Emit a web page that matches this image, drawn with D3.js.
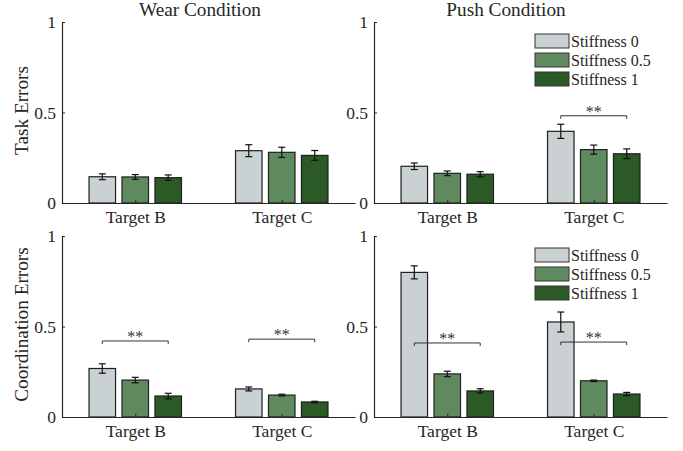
<!DOCTYPE html>
<html>
<head>
<meta charset="utf-8">
<script src="https://cdn.jsdelivr.net/npm/d3@7"></script>
<style>
  html, body { margin: 0; padding: 0; background: #fff; }
  svg text { font-family: "Liberation Serif", "Times New Roman", "DejaVu Serif", serif; }
</style>
</head>
<body>
<svg id="chart" width="683" height="451"></svg>
<script>
// Categories and series
const categories = ["Target B", "Target C"];
const seriesNames = ["Stiffness 0", "Stiffness 0.5", "Stiffness 1"];
const seriesColors = ["#c9d1d3", "#5f8a5f", "#2b5a26"];
const yTicks = [0, 0.5, 1];

// Means per category (rows) and stiffness level (columns), with error half-widths
const wearTaskMean = [[0.145, 0.144, 0.140], [0.289, 0.280, 0.263]];
const wearTaskErr  = [[0.016, 0.013, 0.015], [0.033, 0.028, 0.027]];
const pushTaskMean = [[0.203, 0.164, 0.159], [0.396, 0.295, 0.272]];
const pushTaskErr  = [[0.018, 0.013, 0.014], [0.039, 0.025, 0.027]];
const wearCoordMean = [[0.268, 0.204, 0.116], [0.155, 0.121, 0.083]];
const wearCoordErr  = [[0.026, 0.015, 0.015], [0.011, 0.005, 0.004]];
const pushCoordMean = [[0.799, 0.238, 0.144], [0.525, 0.200, 0.127]];
const pushCoordErr  = [[0.036, 0.015, 0.012], [0.055, 0.004, 0.009]];

// Significance brackets: [category index, bracket height, label]
const wearTaskSig = [];
const pushTaskSig = [[1, 0.482, "**"]];
const wearCoordSig = [[0, 0.420, "**"], [1, 0.430, "**"]];
const pushCoordSig = [[0, 0.409, "**"], [1, 0.414, "**"]];

const FONT = '"Liberation Serif", "Times New Roman", "DejaVu Serif", serif';
const svg = d3.select("#chart");
const axisColor = "#262626";
const tickFont = 17.5, labelFont = 19.25, legendFont = 16;

const colsX = [[62, 355], [374, 667]];
const rowsY = [[22, 203], [236, 417]];

const panels = [
  { col: 0, row: 0, mean: wearTaskMean, err: wearTaskErr, sig: wearTaskSig, title: "Wear Condition", ylabel: "Task Errors", legend: false },
  { col: 1, row: 0, mean: pushTaskMean, err: pushTaskErr, sig: pushTaskSig, title: "Push Condition", ylabel: null, legend: true },
  { col: 0, row: 1, mean: wearCoordMean, err: wearCoordErr, sig: wearCoordSig, title: null, ylabel: "Coordination Errors", legend: false },
  { col: 1, row: 1, mean: pushCoordMean, err: pushCoordErr, sig: pushCoordSig, title: null, ylabel: null, legend: true }
];

const titleX = [200, 506];
const barOffset = 0.225, barWidth = 0.181;

panels.forEach(p => {
  const [x0, x1] = colsX[p.col];
  const [yTop, yBot] = rowsY[p.row];
  const x = d3.scaleLinear().domain([0.5, 2.5]).range([x0, x1]);
  const y = d3.scaleLinear().domain([0, 1]).range([yBot, yTop]);
  const g = svg.append("g").attr("font-family", FONT);
  const bw = x(barWidth) - x(0);

  // bars
  p.mean.forEach((vals, ci) => {
    vals.forEach((v, si) => {
      const cx = x(ci + 1 + (si - 1) * barOffset);
      g.append("rect")
        .attr("x", cx - bw / 2).attr("y", y(v))
        .attr("width", bw).attr("height", y(0) - y(v))
        .attr("fill", seriesColors[si])
        .attr("stroke", "#1f1f1f").attr("stroke-width", 1.2);
    });
  });

  // error bars
  p.mean.forEach((vals, ci) => {
    vals.forEach((v, si) => {
      const cx = x(ci + 1 + (si - 1) * barOffset);
      const e = p.err[ci][si];
      const eg = g.append("g").attr("stroke", "#111").attr("stroke-width", 1.2);
      eg.append("line").attr("x1", cx).attr("x2", cx).attr("y1", y(v - e)).attr("y2", y(v + e));
      eg.append("line").attr("x1", cx - 3.5).attr("x2", cx + 3.5).attr("y1", y(v - e)).attr("y2", y(v - e));
      eg.append("line").attr("x1", cx - 3.5).attr("x2", cx + 3.5).attr("y1", y(v + e)).attr("y2", y(v + e));
    });
  });

  // x axis with inward ticks
  const xAxis = d3.axisBottom(x).tickValues([1, 2]).tickFormat(d => categories[d - 1])
    .tickSizeInner(-3).tickSizeOuter(0).tickPadding(10);
  const xa = g.append("g").attr("transform", `translate(0,${yBot})`).call(xAxis)
    .attr("font-family", FONT);
  xa.select(".domain").attr("stroke", axisColor).attr("stroke-width", 1.2);
  xa.selectAll(".tick line").attr("stroke", axisColor);
  xa.selectAll(".tick text").attr("font-size", tickFont).attr("fill", axisColor)
    .attr("font-family", FONT).attr("dy", "0.75em").attr("y", 7);

  // y axis with inward ticks
  const yAxis = d3.axisLeft(y).tickValues(yTicks).tickFormat(d3.format("~g"))
    .tickSizeInner(-3).tickSizeOuter(0).tickPadding(9);
  const ya = g.append("g").attr("transform", `translate(${x0},0)`).call(yAxis)
    .attr("font-family", FONT);
  ya.select(".domain").attr("stroke", axisColor).attr("stroke-width", 1.2);
  ya.selectAll(".tick line").attr("stroke", axisColor);
  ya.selectAll(".tick text").attr("font-size", tickFont).attr("fill", axisColor)
    .attr("font-family", FONT).attr("x", -6);

  // significance brackets
  p.sig.forEach(([ci, h, label]) => {
    const xa0 = x(ci + 1 - barOffset), xa1 = x(ci + 1 + barOffset);
    const yy = y(h);
    g.append("path")
      .attr("d", `M${xa0},${yy + 3}V${yy}H${xa1}V${yy + 3}`)
      .attr("fill", "none").attr("stroke", "#333").attr("stroke-width", 1);
    g.append("text").attr("x", (xa0 + xa1) / 2).attr("y", yy + 1)
      .attr("text-anchor", "middle").attr("font-size", 16).attr("fill", "#333")
      .attr("font-family", FONT)
      .text(label);
  });

  // title
  if (p.title) {
    svg.append("text").attr("x", titleX[p.col]).attr("y", 16)
      .attr("text-anchor", "middle").attr("font-size", labelFont).attr("fill", axisColor)
      .attr("font-family", FONT)
      .text(p.title);
  }

  // y label
  if (p.ylabel) {
    const cy = (yTop + yBot) / 2 - 2;
    svg.append("text").attr("transform", `translate(28,${cy}) rotate(-90)`)
      .attr("text-anchor", "middle").attr("font-size", labelFont).attr("fill", axisColor)
      .attr("font-family", FONT)
      .text(p.ylabel);
  }

  // legend
  if (p.legend) {
    const lg = svg.append("g").attr("transform", `translate(535,${yTop + 12})`);
    seriesNames.forEach((name, si) => {
      lg.append("rect").attr("x", 0).attr("y", si * 19).attr("width", 34).attr("height", 14)
        .attr("fill", seriesColors[si]).attr("stroke", "#333").attr("stroke-width", 1);
      lg.append("text").attr("x", 36).attr("y", si * 19 + 12.7)
        .attr("font-size", legendFont).attr("fill", axisColor)
        .attr("font-family", FONT).text(name);
    });
  }
});
</script>
</body>
</html>
